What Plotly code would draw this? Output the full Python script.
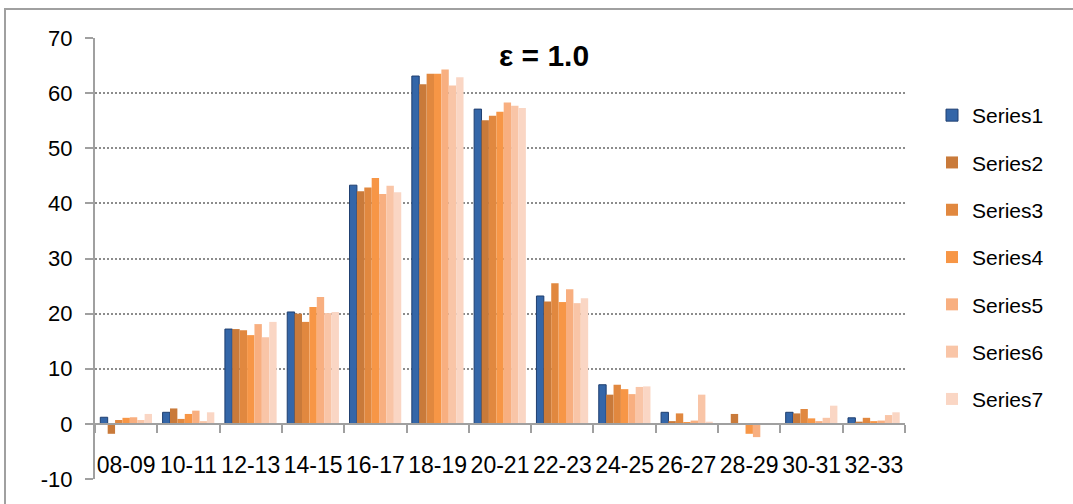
import plotly.graph_objects as go

categories = ["08-09", "10-11", "12-13", "14-15", "16-17", "18-19", "20-21",
              "22-23", "24-25", "26-27", "28-29", "30-31", "32-33"]

series1 = [1.2, 2.1, 17.2, 20.3, 43.3, 63.1, 57.1, 23.2, 7.1, 2.1, 0.0, 2.1, 1.1]
series2 = [-1.8, 2.8, 17.2, 20.0, 42.2, 61.6, 55.1, 22.2, 5.3, 0.5, 1.8, 1.9, 0.4]
series3 = [0.7, 0.9, 17.0, 18.5, 42.9, 63.5, 55.9, 25.5, 7.1, 1.9, 0.1, 2.7, 1.1]
series4 = [1.1, 1.8, 16.1, 21.2, 44.6, 63.5, 56.6, 22.1, 6.3, 0.2, -1.8, 1.0, 0.5]
series5 = [1.2, 2.4, 18.1, 23.0, 41.7, 64.3, 58.3, 24.4, 5.4, 0.6, -2.4, 0.5, 0.6]
series6 = [0.7, 0.5, 15.7, 20.1, 43.2, 61.4, 57.7, 21.9, 6.7, 5.3, 0.0, 1.1, 1.6]
series7 = [1.8, 2.1, 18.5, 20.3, 42.0, 62.9, 57.3, 22.8, 6.8, 0.4, 0.0, 3.3, 2.1]

series_names = ["Series1", "Series2", "Series3", "Series4", "Series5", "Series6", "Series7"]
series_values = [series1, series2, series3, series4, series5, series6, series7]
series_colors = ["#3466A8", "#C97A3A", "#E1883F", "#F79646", "#F8AF80", "#F9C5A7", "#FAD6C4"]
series_lines = ["#1F3F70", "#C97A3A", "#E1883F", "#F79646", "#F8AF80", "#F9C5A7", "#FAD6C4"]

y_ticks = [-10, 0, 10, 20, 30, 40, 50, 60, 70]
y_tick_labels = ["-10", "0", "10", "20", "30", "40", "50", "60", "70"]
title_text = "ε = 1.0"

FONT = "Liberation Sans, Arial, sans-serif"
W, H = 1073, 504
L, R, T, B = 95, 168, 38, 25
pw, ph = W - L - R, H - T - B

fig = go.Figure()
for name, vals, col, lc in zip(series_names, series_values, series_colors, series_lines):
    fig.add_trace(go.Bar(
        x=categories, y=vals, name=name, legendgroup=name,
        marker=dict(color=col, line=dict(color=lc, width=1 if name == "Series1" else 0)),
    ))

def px_x(p):
    return (p - L) / pw

def px_y(p):
    return (H - B - p) / ph

fig.update_layout(
    width=W, height=H,
    margin=dict(l=L, r=R, t=T, b=B, autoexpand=False),
    paper_bgcolor="white", plot_bgcolor="white",
    barmode="group", bargap=0.17, bargroupgap=0,
    font=dict(family=FONT, size=22, color="black"),
    showlegend=True,
    legend=dict(
        xref="container", yref="container",
        x=932 / W, y=1 - 95 / H, xanchor="left", yanchor="top",
        font=dict(size=21, family=FONT, color="black"),
        tracegroupgap=17, itemwidth=30, bgcolor="rgba(0,0,0,0)",
        maxheight=460,
    ),
    xaxis=dict(
        type="category", anchor="free", position=10 / 80,
        showline=True, linecolor="#A0A0A0", linewidth=2,
        ticks="outside", ticklen=8, tickwidth=2, tickcolor="#A0A0A0",
        tickson="boundaries", showgrid=False, zeroline=False,
        tickangle=0, ticklabelstandoff=21, tickfont=dict(size=23, family=FONT),
        range=[-0.5, len(categories) - 0.5],
    ),
    yaxis=dict(
        range=[-10, 70], tickvals=y_ticks, ticktext=y_tick_labels,
        showline=True, linecolor="#A0A0A0", linewidth=2,
        ticks="outside", ticklen=8, tickwidth=2, tickcolor="#A0A0A0",
        showgrid=True, gridcolor="#8C8C8C", gridwidth=1.5, griddash="2px,2px",
        zeroline=False, tickfont=dict(size=22, family=FONT),
        ticklabelstandoff=8,
    ),
    annotations=[dict(
        text="<b>" + title_text + "</b>", xref="paper", yref="paper",
        x=px_x(544), y=px_y(55), xanchor="center", yanchor="middle",
        showarrow=False, font=dict(size=30, family=FONT, color="black"),
    )],
    shapes=[dict(
        type="rect", xref="paper", yref="paper",
        x0=px_x(5), x1=px_x(1085), y0=px_y(515), y1=px_y(9),
        line=dict(color="#A0A0A0", width=2), fillcolor="rgba(0,0,0,0)", layer="below",
    )],
)

fig.write_html("out.html")
